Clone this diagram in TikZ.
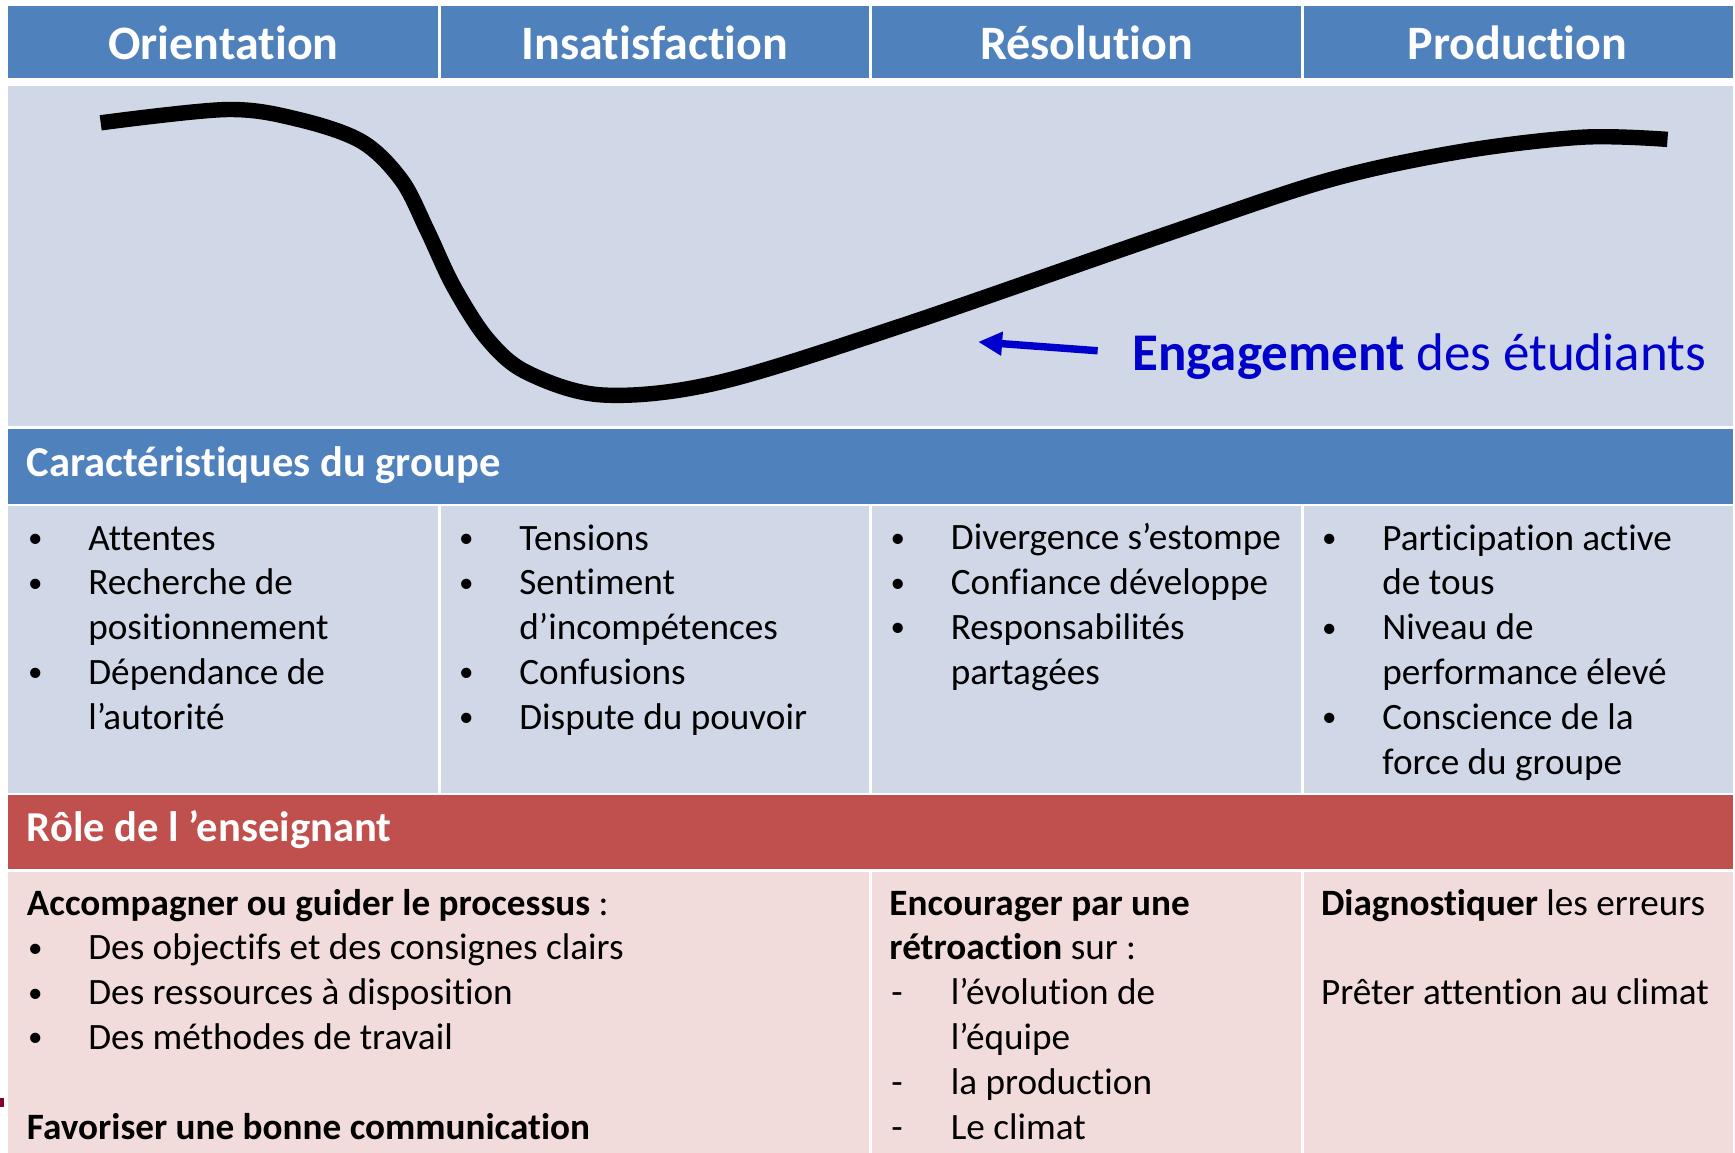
\documentclass[tikz,border=0pt]{standalone}
\usepackage{fontspec}
\setmainfont{Carlito}[Ligatures=NoCommon]
\usepackage{tikz}
\usetikzlibrary{arrows.meta}
\definecolor{hdblue}{HTML}{4F81BD}
\definecolor{cellblue}{HTML}{D0D8E8}
\definecolor{hdred}{HTML}{C0504D}
\definecolor{cellred}{HTML}{F2DCDB}
\definecolor{engblue}{HTML}{0000CC}
\def\li{\makebox[30.7pt][l]{\hspace{0.6pt}\raisebox{1.3pt}{\scalebox{0.78}{•}}}}
\def\di{\makebox[30.7pt][l]{\hspace{1pt}-}}
\def\nl{\hspace*{30.7pt}}
\tikzset{
  head/.style={font=\fontsize{24}{29}\selectfont\bfseries, text=white, anchor=base, inner sep=0pt},
  band/.style={font=\fontsize{21.3}{25}\selectfont\bfseries, text=white, anchor=base west, inner sep=0pt},
  cell/.style={font=\fontsize{18.6}{22.4}\selectfont, anchor=base west, align=left, inner sep=0pt},
  sep/.style={white, line width=1.4pt}
}

\begin{document}
\begin{tikzpicture}[x=0.5533pt,y=-0.5533pt]
			%%%%% START %%%%%
			\useasboundingbox (0,0) rectangle (1568,1042);
			\fill[white] (0,0) rectangle (1568,1042);
			
			\fill[hdblue] (7.5,5) rectangle (1566,70.5);
			\fill[cellblue] (7.5,78) rectangle (1566,385);
			\fill[hdblue] (7.5,387.5) rectangle (1566,455.5);
			\fill[cellblue] (7.5,457.5) rectangle (1566,716.5);
			\fill[hdred] (7.5,718.5) rectangle (1566,785.5);
			\fill[cellred] (7.5,788) rectangle (1566,1042);
			\fill[purple!70!black] (0,992) rectangle (4,1000);
			
			\foreach \x in {397,787,1177} {
				\draw[sep] (\x,5) -- (\x,70.5);
				\draw[sep] (\x,457.5) -- (\x,716.5);
			}
			\foreach \x in {787,1177} \draw[sep] (\x,788) -- (\x,1042);
			
			\node[head] (orient) at (202,53.7) {Orientation};
			\node[head] (insat) at (592,53.7) {Insatisfaction};
			\node[head] (resol) at (982,53.7) {Résolution};
			\node[head] (prod) at (1371.5,53.7) {Production};
			
			\draw[line width=7.7pt] plot[smooth, tension=0.55] coordinates {(91,111) (205,99) (270,108) (327,128) (363,163) (386,208) (410,259) (441,307) (477,337) (545,357) (648,346) (813,295) (1050,213) (1200,163) (1320,137) (1430,124) (1507,126)};
			
			\node[anchor=base west, inner sep=0pt, text=engblue, font=\fontsize{26.5}{31}\selectfont] (engage) at (1023,335) {\textbf{Engagement} des étudiants};
			\coordinate (tail) at (992,317);
			\coordinate (tip) at (884,309);
			\draw[engblue, line width=3.7pt, -{Triangle[length=12pt,width=11.3pt]}] (tail) -- (tip);
			
			\node[band] (cara) at (24,430.8) {Caractéristiques du groupe};
			
			% base = last line
			\node[cell] (orientc) at (24,659) {\li Attentes\\ \li Recherche de\\ \nl positionnement\\ \li Dépendance de\\ \nl l’autorité};
			\node[cell] (insatc) at (413.5,659) {\li Tensions\\ \li Sentiment\\ \nl d’incompétences\\ \li Confusions\\ \li Dispute du pouvoir};
			\node[cell] (resolc) at (803.5,618.5) {\li Divergence s’estompe\\ \li Confiance développe\\ \li Responsabilités\\ \nl partagées};
			\node[cell] (prodc) at (1193.5,699.5) {\li Participation active\\ \nl de tous\\ \li Niveau de\\ \nl performance élevé\\ \li Conscience de la\\ \nl force du groupe};
			
			\node[band] (role) at (24,760.6) {Rôle de l ’enseignant};
			
			\node[cell] (guide) at (24,1029.5) {\textbf{Accompagner ou guider le processus} :\\ \li Des objectifs et des consignes clairs\\ \li Des ressources à disposition\\ \li Des méthodes de travail\\ \mbox{}\\ \textbf{Favoriser une bonne communication}};
			\node[cell] (retro) at (803.5,1029.5) {\textbf{Encourager par une}\\ \textbf{rétroaction} sur :\\ \di l’évolution de\\ \nl l’équipe\\ \di la production\\ \di Le climat};
			\node[cell] (diag) at (1193.5,908) {\textbf{Diagnostiquer} les erreurs\\ \mbox{}\\ Prêter attention au climat};
			
			%%%%% END %%%%%
\end{tikzpicture}
\end{document}
